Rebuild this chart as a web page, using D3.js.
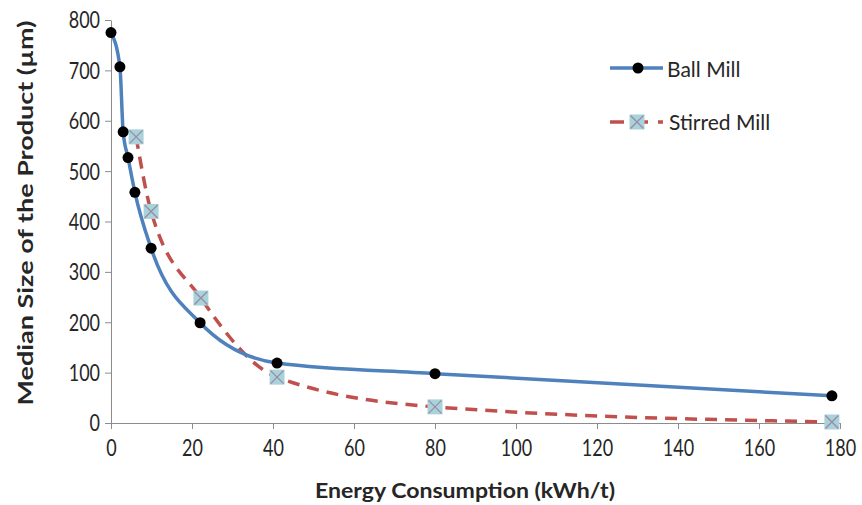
<!DOCTYPE html>
<html>
<head>
<meta charset="utf-8">
<script src="https://cdn.jsdelivr.net/npm/d3@7"></script>
<style>
  body { margin: 0; background: #fff; }
  svg { font-family: Lato, "Open Sans", sans-serif; }
  .tall { transform-box: fill-box; transform-origin: center; transform: scaleY(1.3); }
</style>
</head>
<body>
<div class="chart-area"></div>
<script>
// data
const ballEnergy = [0, 2.2, 3, 4.2, 5.9, 9.9, 22, 41, 80, 178];
const ballSize = [775, 707, 578, 527, 458, 347, 199, 119, 98, 54];
const stirEnergy = [6.2, 9.9, 22.2, 41, 80, 178];
const stirSize = [568, 420, 248, 91, 32, 2];
const xTicks = [0, 20, 40, 60, 80, 100, 120, 140, 160, 180];
const yTicks = [0, 100, 200, 300, 400, 500, 600, 700, 800];
const seriesNames = ["Ball Mill", "Stirred Mill"];

const width = 862, height = 505;
const margin = { top: 20, right: 22, bottom: 82, left: 111 };

const svg = d3.select('.chart-area').append('svg')
    .attr('width', width).attr('height', height);

const x = d3.scaleLinear().domain([0, 180]).range([margin.left, width - margin.right]);
const y = d3.scaleLinear().domain([0, 800]).range([height - margin.bottom, margin.top]);

const axisColor = "#8c8c8c";
const textColor = "#262626";

// x axis
svg.append("g")
    .attr("transform", `translate(0,${y(0)})`)
    .call(d3.axisBottom(x).tickValues(xTicks).tickSize(6).tickSizeOuter(0).tickPadding(12))
    .call(g => g.select(".domain").attr("stroke", axisColor))
    .call(g => g.selectAll(".tick line").attr("stroke", axisColor))
    .call(g => g.selectAll(".tick text").attr("fill", textColor).attr("font-size", 18)
        .attr("font-family", "Lato, sans-serif").attr("class", "tall"));

// y axis
svg.append("g")
    .attr("transform", `translate(${x(0)},0)`)
    .call(d3.axisLeft(y).tickValues(yTicks).tickSize(6).tickSizeOuter(0).tickPadding(5))
    .call(g => g.select(".domain").attr("stroke", axisColor))
    .call(g => g.selectAll(".tick line").attr("stroke", axisColor))
    .call(g => g.selectAll(".tick text").attr("fill", textColor).attr("font-size", 18)
        .attr("font-family", "Lato, sans-serif").attr("class", "tall"));

// axis titles
svg.append("text")
    .attr("x", 465).attr("y", 498)
    .attr("text-anchor", "middle")
    .attr("font-size", 21).attr("font-weight", "bold").attr("fill", textColor)
    .attr("textLength", 300).attr("lengthAdjust", "spacingAndGlyphs")
    .text("Energy Consumption (kWh/t)");

svg.append("text")
    .attr("transform", `translate(33,${213}) rotate(-90)`)
    .attr("text-anchor", "middle")
    .attr("font-size", 21).attr("font-weight", "bold").attr("fill", textColor)
    .attr("textLength", 385).attr("lengthAdjust", "spacingAndGlyphs")
    .text("Median Size of the Product  (µm)");

const line = d3.line()
    .x(d => x(d[0]))
    .y(d => y(d[1]))
    .curve(d3.curveMonotoneX);

const ball = d3.zip(ballEnergy, ballSize);
const stir = d3.zip(stirEnergy, stirSize);

// stirred mill
svg.append("path")
    .datum(stir)
    .attr("d", line)
    .attr("fill", "none")
    .attr("stroke", "#c0504d")
    .attr("stroke-width", 3.5)
    .attr("stroke-dasharray", "12,8");

// ball mill
svg.append("path")
    .datum(ball)
    .attr("d", line)
    .attr("fill", "none")
    .attr("stroke", "#4f81bd")
    .attr("stroke-width", 3.5);

function crossMarker(g) {
    g.append("rect")
        .attr("x", -7.5).attr("y", -7.5).attr("width", 15).attr("height", 15)
        .attr("fill", "#a9d3da");
    g.append("path")
        .attr("d", "M-6.5,-6.5L6.5,6.5M6.5,-6.5L-6.5,6.5")
        .attr("stroke", "#9a8aa6").attr("stroke-width", 1.3);
}

svg.append("g").selectAll("g")
    .data(stir)
    .join("g")
    .attr("transform", d => `translate(${x(d[0])},${y(d[1])})`)
    .each(function () { crossMarker(d3.select(this)); });

svg.append("g").selectAll("circle")
    .data(ball)
    .join("circle")
    .attr("cx", d => x(d[0]))
    .attr("cy", d => y(d[1]))
    .attr("r", 5.5)
    .attr("fill", "#000");

// legend
const legend = svg.append("g");
const lg1 = legend.append("g").attr("transform", "translate(610,68)");
lg1.append("line").attr("x1", 0).attr("x2", 53)
    .attr("stroke", "#4f81bd").attr("stroke-width", 3.5);
lg1.append("circle").attr("cx", 28).attr("r", 5.5).attr("fill", "#000");
lg1.append("text").attr("x", 57).attr("y", 9)
    .attr("font-size", 21).attr("fill", textColor).text(seriesNames[0]);

const lg2 = legend.append("g").attr("transform", "translate(610,122)");
lg2.append("line").attr("x1", 0).attr("x2", 53)
    .attr("stroke", "#c0504d").attr("stroke-width", 3.5)
    .attr("stroke-dasharray", "14,10");
const mk = lg2.append("g").attr("transform", "translate(27,0)");
crossMarker(mk);
lg2.append("text").attr("x", 59).attr("y", 8)
    .attr("font-size", 21).attr("fill", textColor).text(seriesNames[1]);
</script>
</body>
</html>
